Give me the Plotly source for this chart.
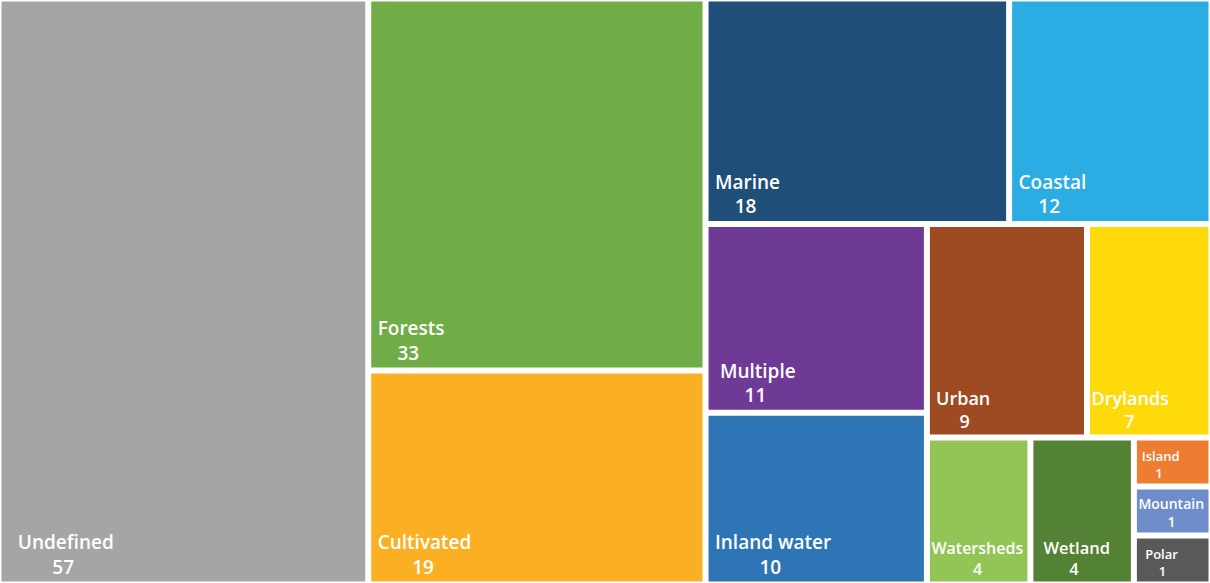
import plotly.graph_objects as go

# Ecosystem categories and their counts
labels = ["Undefined", "Forests", "Cultivated", "Marine", "Coastal", "Multiple",
          "Inland water", "Urban", "Drylands", "Watersheds", "Wetland",
          "Island", "Mountain", "Polar"]
counts = [57, 33, 19, 18, 12, 11, 10, 9, 7, 4, 4, 1, 1, 1]
colors = ["#A5A5A5", "#70AD47", "#FBB024", "#1F4E79", "#2BADE4", "#6F3A95",
          "#2E75B6", "#9E4A23", "#FFDA0A", "#92C556", "#538234",
          "#ED7D31", "#6E8DCA", "#595959"]

# Text styling per tile: font size and left indent (in no-break spaces)
font_sizes = [19, 19, 19, 19, 19, 19, 19, 18, 18, 16, 16.5, 13, 14, 13]
lead_spaces = [3, 1, 1, 1, 1, 2, 1, 1, 0, 0, 2, 1, 0, 2]

# Approximate Open Sans advance widths (units per 2048 em)
ADV = {" ": 532, "a": 1139, "b": 1255, "c": 975, "d": 1255, "e": 1149,
       "f": 694, "g": 1122, "h": 1257, "i": 518, "l": 518, "m": 1905,
       "n": 1257, "o": 1237, "p": 1255, "r": 836, "s": 977, "t": 723,
       "u": 1257, "v": 1026, "w": 1675, "y": 1026, "C": 1292, "D": 1479,
       "F": 1100, "I": 561, "M": 1823, "P": 1227, "U": 1479, "W": 1929}
NBSP = "\u00a0"


def text_em(s):
    return sum(ADV.get(ch, 1171) for ch in s) / 2048.0


def tile_text(label, value, lead):
    # centre the value line under the label line using no-break spaces
    val = str(value)
    shift = (text_em(label) - text_em(val)) / 2.0
    n = max(0, round(shift / (532 / 2048.0)))
    pad = NBSP * lead
    return f"{pad}{label}<br>{pad}{NBSP * n}{val}"


texts = [tile_text(l, v, p) for l, v, p in zip(labels, counts, lead_spaces)]

root = "All"
fig = go.Figure(go.Treemap(
    ids=[root] + labels,
    labels=[root] + labels,
    parents=[""] + [root] * len(labels),
    values=[sum(counts)] + counts,
    text=[""] + texts,
    branchvalues="total",
    sort=False,
    root=dict(color="white"),
    pathbar=dict(visible=False),
    marker=dict(colors=["white"] + colors, line=dict(color="white", width=3),
                pad=dict(t=0, l=0, r=0, b=0)),
    texttemplate="%{text}",
    textposition="bottom left",
    textfont=dict(family="Open Sans", size=[19] + font_sizes, color="white",
                  weight=600),
    hoverinfo="skip",
))

fig.update_layout(
    width=1210, height=583,
    margin=dict(l=0, r=0, t=0, b=0),
    paper_bgcolor="white",
    hovermode=False,
)

fig.write_html("out.html")
